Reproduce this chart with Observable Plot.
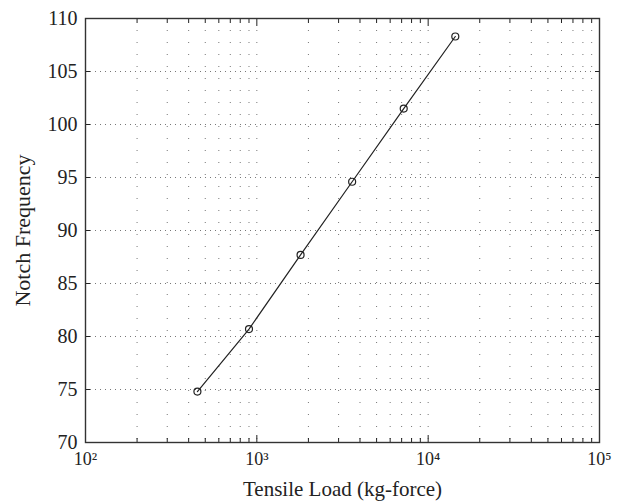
<!DOCTYPE html>
<html>
<head>
<meta charset="utf-8">
<script src="https://cdn.jsdelivr.net/npm/d3@7"></script>
<script src="https://cdn.jsdelivr.net/npm/@observablehq/plot@0.6"></script>
<style>
  html, body { margin: 0; padding: 0; background: #fff; }
</style>
</head>
<body>
<div id="chart"></div>
<script>
// Data
const loads = [450, 900, 1800, 3600, 7200, 14400];           // Tensile Load (kg-force)
const notchFreq = [74.8, 80.7, 87.7, 94.6, 101.5, 108.3];    // Notch Frequency

// Axis ticks
const xMajor = [1e2, 1e3, 1e4, 1e5];
const xMajorLabels = ["10²", "10³", "10⁴", "10⁵"];
const decades = [1e2, 1e3, 1e4];
const mantissas = [2, 3, 4, 5, 6, 7, 8, 9];
const yTicks = [70, 75, 80, 85, 90, 95, 100, 105, 110];
const yGrid = [75, 80, 85, 90, 95, 100, 105];

const xMinor = decades.flatMap(d => mantissas.map(m => m * d));
const xGrid = [...xMinor, 1e3, 1e4];
const data = loads.map((x, i) => ({x, y: notchFreq[i]}));

const fmtX = d => xMajorLabels[xMajor.indexOf(d)] ?? "";
const blank = () => "";

const chart = Plot.plot({
  width: 621,
  height: 503,
  marginTop: 18,
  marginRight: 22,
  marginBottom: 61,
  marginLeft: 85,
  style: {fontFamily: "'Liberation Serif', 'Times New Roman', serif", fontSize: "19px", color: "#222", background: "#fff"},
  x: {type: "log", domain: [1e2, 1e5]},
  y: {domain: [70, 110]},
  marks: [
    Plot.ruleY(yGrid, {stroke: "#777", strokeWidth: 1, strokeDasharray: "1,4"}),
    Plot.ruleX(xGrid, {stroke: "#777", strokeWidth: 1, strokeDasharray: "1,11"}),
    // bottom tick labels
    Plot.axisX({anchor: "bottom", ticks: xMajor, tickSize: 0, tickPadding: 10, tickFormat: fmtX, label: null, fontSize: 18}),
    // bottom title
    Plot.axisX({anchor: "bottom", ticks: xMajor, tickSize: 0, tickFormat: blank,
      label: "Tensile Load (kg-force)", labelAnchor: "center", labelOffset: 53, labelArrow: "none", fontSize: 21}),
    // inward ticks bottom & top
    Plot.axisX({anchor: "bottom", ticks: xMajor, tickSize: -7, tickFormat: blank, label: null}),
    Plot.axisX({anchor: "bottom", ticks: xMinor, tickSize: -4, tickFormat: blank, label: null}),
    Plot.axisX({anchor: "top", ticks: xMajor, tickSize: -7, tickFormat: blank, label: null}),
    Plot.axisX({anchor: "top", ticks: xMinor, tickSize: -4, tickFormat: blank, label: null}),
    // left tick labels
    Plot.axisY({anchor: "left", ticks: yTicks, tickSize: 0, tickPadding: 8, label: null, fontSize: 20}),
    // left title
    Plot.axisY({anchor: "left", ticks: yTicks, tickSize: 0, tickFormat: blank,
      label: "Notch Frequency", labelAnchor: "center", labelOffset: 71, labelArrow: "none", fontSize: 22}),
    Plot.axisY({anchor: "left", ticks: yTicks, tickSize: -5, tickFormat: blank, label: null}),
    Plot.axisY({anchor: "right", ticks: yTicks, tickSize: -5, tickFormat: blank, label: null}),
    Plot.frame({stroke: "#333", strokeWidth: 1.4}),
    Plot.line(data, {x: "x", y: "y", stroke: "#222", strokeWidth: 1.2}),
    Plot.dot(data, {x: "x", y: "y", r: 3.5, stroke: "#222", strokeWidth: 1.2, fill: "none"})
  ]
});
document.getElementById("chart").appendChild(chart);
</script>
</body>
</html>
